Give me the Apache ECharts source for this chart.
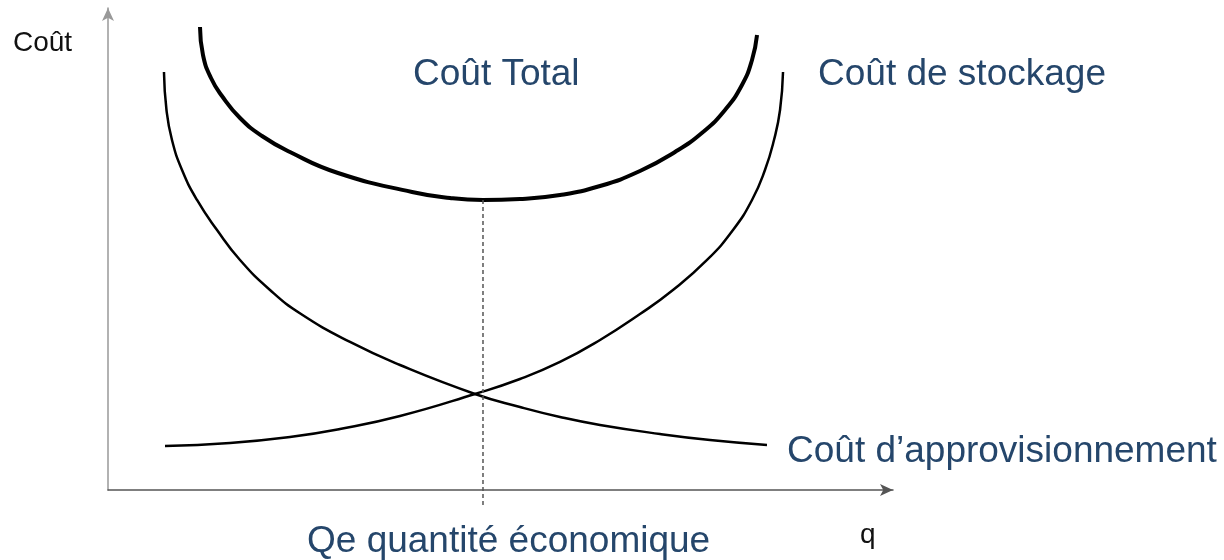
<!DOCTYPE html>
<html>
<head>
<meta charset="utf-8">
<script src="https://cdn.jsdelivr.net/npm/echarts@6/dist/echarts.min.js"></script>
<style>
  html, body { margin: 0; padding: 0; background: #fff; }
  #chart { width: 1224px; height: 560px; }
</style>
</head>
<body>
<div id="chart"></div>
<script>
// quantity q (0-100) and cost (0-100)
const approQ = [7.13, 7.45, 8.15, 9.43, 11.34, 13.89, 16.82, 20.64, 24.59, 30.83, 37.2, 46.75, 52.48, 57.58, 62.68, 70.32, 76.69, 83.95]
const approCost = [86.72, 78.84, 72.61, 66.39, 60.17, 53.94, 47.72, 41.49, 36.51, 30.71, 25.93, 19.92, 17.22, 15.15, 13.49, 11.62, 10.37, 9.34]

const stockQ = [7.26, 15.54, 23.18, 29.55, 37.2, 46.75, 52.48, 57.58, 62.68, 67.77, 71.97, 76.31, 79.62, 82.04, 83.69, 84.84, 85.61, 85.99]
const stockCost = [9.13, 9.75, 11.0, 12.66, 15.35, 19.92, 23.03, 26.56, 31.12, 36.51, 41.49, 47.72, 53.94, 60.17, 66.39, 72.61, 78.84, 86.72]

const totalQ = [11.72, 12.1, 13.12, 14.52, 16.82, 19.62, 23.18, 29.3, 38.73, 43.57, 47.77, 52.48, 57.58, 62.68, 67.77, 72.23, 75.8, 78.6, 80.76, 82.04, 82.68]
const totalCost = [96.06, 90.25, 85.48, 81.74, 77.18, 73.44, 70.12, 65.77, 61.83, 60.58, 60.17, 60.37, 61.2, 63.07, 66.18, 70.12, 74.27, 78.84, 84.02, 89.21, 94.4]

// economic quantity Qe (dashed guide)
const qe = 47.77
const qeTop = 60.17
const qeBottom = -3.5

const zip = (xs, ys) => xs.map((x, i) => [x, ys[i]])

const textColor = '#25466b'
const font = '"Liberation Sans", Arial, sans-serif'

const chart = echarts.init(document.getElementById('chart'))

const option = {
  backgroundColor: '#fff',
  animation: false,
  grid: { left: 108, right: 331, top: 8, bottom: 70 },
  xAxis: {
    type: 'value',
    min: 0,
    max: 100,
    axisLine: {
      lineStyle: { color: '#555', width: 1.5 },
      symbol: ['none', 'arrow'],
      symbolSize: [9, 13]
    },
    axisTick: { show: false },
    axisLabel: { show: false },
    splitLine: { show: false }
  },
  yAxis: {
    type: 'value',
    min: 0,
    max: 100,
    axisLine: {
      show: true,
      lineStyle: { color: '#999', width: 1.5 },
      symbol: ['none', 'arrow'],
      symbolSize: [9, 13]
    },
    axisTick: { show: false },
    axisLabel: { show: false },
    splitLine: { show: false }
  },
  series: [
    {
      name: 'Coût d’approvisionnement',
      type: 'line',
      smooth: 0.5,
      showSymbol: false,
      data: zip(approQ, approCost),
      lineStyle: { color: '#000', width: 2.5 }
    },
    {
      name: 'Coût de stockage',
      type: 'line',
      smooth: 0.5,
      showSymbol: false,
      data: zip(stockQ, stockCost),
      lineStyle: { color: '#000', width: 2.5 }
    },
    {
      name: 'Coût Total',
      type: 'line',
      smooth: 0.5,
      showSymbol: false,
      data: zip(totalQ, totalCost),
      lineStyle: { color: '#000', width: 4 }
    },
    {
      name: 'Qe',
      type: 'line',
      clip: false,
      showSymbol: false,
      data: [[qe, qeTop], [qe, qeBottom]],
      lineStyle: { color: '#555', width: 1.5, type: [4, 3] }
    }
  ],
  graphic: [
    { type: 'text', left: 13, top: 29, style: { text: 'Coût', fill: '#111', font: '28px ' + font } },
    { type: 'text', left: 413, top: 56, style: { text: 'Coût Total', fill: textColor, font: '37px ' + font } },
    { type: 'text', left: 818, top: 56, style: { text: 'Coût de stockage', fill: textColor, font: '37px ' + font } },
    { type: 'text', left: 787, top: 433, style: { text: 'Coût d’approvisionnement', fill: textColor, font: '37px ' + font } },
    { type: 'text', left: 307, top: 523, style: { text: 'Qe quantité économique', fill: textColor, font: '37px ' + font } },
    { type: 'text', left: 860, top: 521, style: { text: 'q', fill: '#111', font: '28px ' + font } }
  ]
}

chart.setOption(option)
</script>
</body>
</html>
